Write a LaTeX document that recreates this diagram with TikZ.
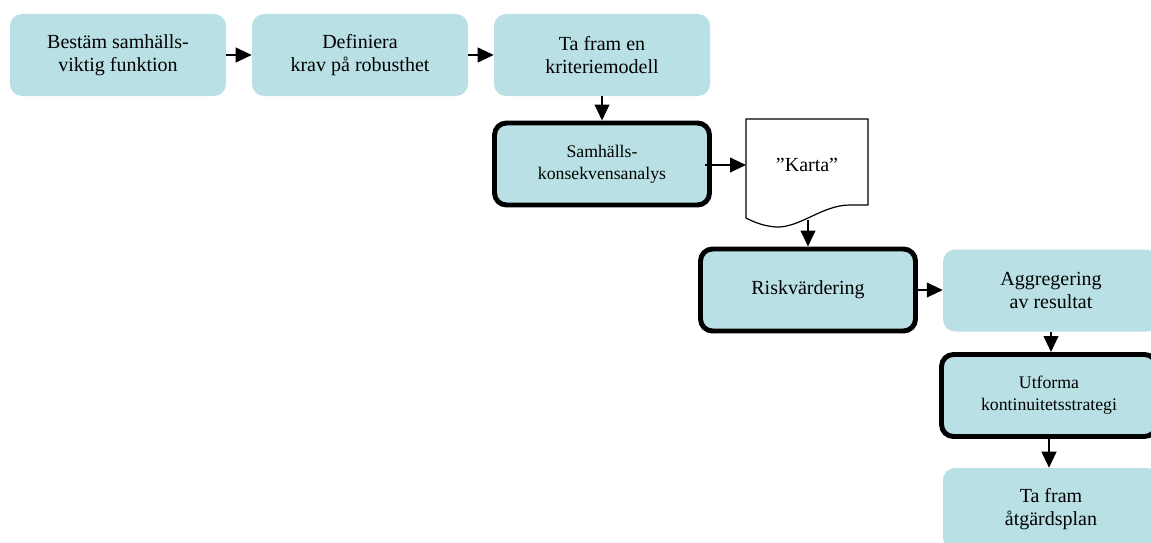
\documentclass[tikz,border=0pt]{standalone}
\usepackage{fontspec}
\setmainfont{Liberation Serif}
\usetikzlibrary{arrows.meta}
\definecolor{boxfill}{RGB}{185,224,228}
\begin{document}
\begin{tikzpicture}[x=0.75pt,y=-0.75pt,
  box/.style={rectangle, rounded corners=9pt, fill=boxfill, minimum width=162pt,
    minimum height=61.5pt, align=center, inner sep=0pt,
    font=\fontsize{15}{17.25}\selectfont},
  plainbox/.style={box, draw=none},
  heavybox/.style={box, draw=black, line width=3.7pt, minimum width=161.25pt,
    font=\fontsize{13.3}{16.5}\selectfont},
  arr/.style={line width=1.5pt, -{Triangle[length=12pt,width=11pt]}},
  doc/.style={draw=black, fill=white, line width=0.9pt}]
\useasboundingbox (0,0) rectangle (1151,542);
\clip (0,0) rectangle (1151,542);
\node[plainbox] (b1) at (118,55) {Bestäm samhälls-\\viktig funktion};
\node[plainbox] (b2) at (360,55) {Definiera\\krav på robusthet};
\node[plainbox] (b3) at (602,55) {Ta fram en\\kriteriemodell};
\node[heavybox] (b4) at (602,164) {Samhälls-\\konsekvensanalys};
% document shape
\draw[doc] (746,119) -- (868,119) -- (868,205) -- (850,205)
  .. controls (822,205) and (800,228) .. (776,227)
  .. controls (762,226) and (752,221) .. (746,218) -- cycle;
\node[rectangle, minimum width=91.5pt, minimum height=74pt, inner sep=0pt,
  font=\fontsize{15}{17.25}\selectfont] (karta) at (807,165) {”Karta”};
\coordinate (kb) at (808,220);
\node[heavybox, font=\fontsize{15}{17.25}\selectfont] (b5) at (808,290) {Riskvärdering};
\node[plainbox] (b6) at (1051,290.5) {Aggregering\\av resultat};
\node[heavybox] (b7) at (1049,395.5) {Utforma\\kontinuitetsstrategi};
\node[plainbox] (b8) at (1051,509) {Ta fram\\åtgärdsplan};
\draw[arr] (b1.east) -- (b2.west);
\draw[arr] (b2.east) -- (b3.west);
\draw[arr] (b3.south) -- (b3.south |- b4.north);
\draw[arr] ([xshift=-5pt]b4.east |- karta.west) -- (karta.west -| 746,0);
\draw[arr] (kb) -- (kb |- b5.north);
\draw[arr] (b5.east) -- (b5.east -| b6.west);
\draw[arr] (b6.south) -- (b6.south |- b7.north);
\draw[arr] (b7.south) -- (b7.south |- b8.north);
\end{tikzpicture}
\end{document}
